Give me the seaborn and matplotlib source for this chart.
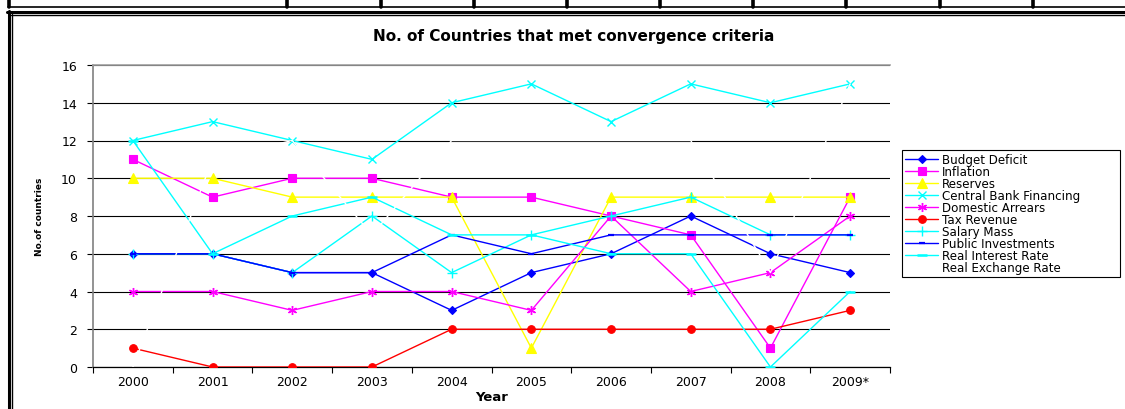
import matplotlib
matplotlib.use("Agg")
import numpy as np
import pandas as pd
import matplotlib.pyplot as plt
from matplotlib.lines import Line2D
import seaborn as sns

# ---- data -------------------------------------------------------------
years = ["2000", "2001", "2002", "2003", "2004", "2005", "2006", "2007", "2008", "2009*"]

budget_deficit = [6, 6, 5, 5, 3, 5, 6, 8, 6, 5]
inflation = [11, 9, 10, 10, 9, 9, 8, 7, 1, 9]
reserves = [10, 10, 9, 9, 9, 1, 9, 9, 9, 9]
central_bank_financing = [12, 13, 12, 11, 14, 15, 13, 15, 14, 15]
domestic_arrears = [4, 4, 3, 4, 4, 3, 8, 4, 5, 8]
tax_revenue = [1, 0, 0, 0, 2, 2, 2, 2, 2, 3]
salary_mass = [6, 6, 5, 8, 5, 7, 8, 9, 7, 7]
public_investments = [6, 6, 5, 5, 7, 6, 7, 7, 7, 7]
real_interest_rate = [12, 6, 8, 9, 7, 7, 6, 6, 0, 4]
real_exchange_rate = [0, 11, 12, 7, 12, 12, 12, 12, 5, 15]

series_names = [
    "Budget Deficit", "Inflation", "Reserves", "Central Bank Financing",
    "Domestic Arrears", "Tax Revenue", "Salary Mass", "Public Investments",
    "Real Interest Rate", "Real Exchange Rate",
]
series_values = [
    budget_deficit, inflation, reserves, central_bank_financing,
    domestic_arrears, tax_revenue, salary_mass, public_investments,
    real_interest_rate, real_exchange_rate,
]

df = pd.DataFrame({
    "Year": years * len(series_names),
    "Count": [v for vals in series_values for v in vals],
    "Criterion": [n for n in series_names for _ in years],
})

# ---- styling per series ------------------------------------------------
styles = {
    "Budget Deficit":         dict(color="#0000FF", marker="D", ms=4.2, mew=0.8, lw=1.0),
    "Inflation":              dict(color="#FF00FF", marker="s", ms=5.8, mew=0.8, lw=1.0),
    "Reserves":               dict(color="#FFFF00", marker="^", ms=6.5, mew=0.8, lw=1.0),
    "Central Bank Financing": dict(color="#00FFFF", marker="x", ms=6.0, mew=1.0, lw=1.0),
    "Domestic Arrears":       dict(color="#FF00FF", marker=(6, 2, 0), ms=6.5, mew=1.0, lw=1.0),
    "Tax Revenue":            dict(color="#FF0000", marker="o", ms=5.5, mew=0.8, lw=1.0),
    "Salary Mass":            dict(color="#00FFFF", marker="+", ms=6.5, mew=1.0, lw=1.0),
    "Public Investments":     dict(color="#0000FF", marker="_", ms=5.0, mew=1.6, lw=1.0),
    "Real Interest Rate":     dict(color="#00FFFF", marker="_", ms=7.0, mew=1.8, lw=1.0),
    "Real Exchange Rate":     dict(color="#FFFFFF", marker=None, ms=0.0, mew=0.0, lw=1.0),
}

sns.set_style("white")
plt.rcParams["font.family"] = ["DejaVu Sans"]
plt.rcParams["text.color"] = "black"
plt.rcParams["axes.labelcolor"] = "black"
plt.rcParams["xtick.color"] = "black"
plt.rcParams["ytick.color"] = "black"

W, H = 1125, 410
fig = plt.figure(figsize=(W / 100, H / 100), dpi=100)
fig.patch.set_facecolor("white")


def fx(px):
    return px / W


def fy(py):
    return 1 - py / H


ax = fig.add_axes([fx(93), fy(368), fx(890) - fx(93), fy(66) - fy(368)])

handles = []
for i, name in enumerate(series_names):
    st = styles[name]
    sub = df[df["Criterion"] == name]
    sns.lineplot(
        data=sub, x="Year", y="Count", ax=ax, color=st["color"],
        marker=st["marker"], markersize=st["ms"], markeredgewidth=st["mew"],
        markeredgecolor=st["color"], markerfacecolor=st["color"],
        linewidth=st["lw"], errorbar=None, legend=False, zorder=3 + i,
    )
    line = ax.lines[-1]
    line.set_label(name)
    handles.append(line)

# ---- axes -------------------------------------------------------------
ax.set_xlim(-0.5, len(years) - 0.5)
ax.set_ylim(0, 16)
ax.set_yticks(np.arange(0, 17, 2))
ax.set_xticks(np.arange(len(years)))
ax.set_xticklabels(years)
ax.set_xticks(np.arange(len(years) + 1) - 0.5, minor=True)

ax.yaxis.grid(True, color="black", linewidth=0.8)
ax.xaxis.grid(False)
ax.set_axisbelow(True)

ax.spines["right"].set_visible(False)
ax.spines["top"].set_color("#A0A0A0")
ax.spines["top"].set_linewidth(1.2)
ax.spines["left"].set_color("#808080")
ax.spines["left"].set_linewidth(1.2)
ax.spines["bottom"].set_color("black")
ax.spines["bottom"].set_linewidth(0.9)

ax.tick_params(axis="y", which="major", direction="out", length=4.5, width=0.8,
               color="black", labelcolor="black", pad=7, labelsize=9, left=True)
ax.tick_params(axis="x", which="major", length=0, pad=6, labelsize=9,
               labelcolor="black", bottom=True)
ax.tick_params(axis="x", which="minor", direction="out", length=4, width=0.8,
               color="black", bottom=True)

ax.set_xlabel("Year", fontweight="bold", fontsize=9.5, labelpad=1.5, color="black")
ax.set_ylabel("No.of countries", fontweight="bold", fontsize=6.5, labelpad=12,
              color="black")

fig.text(fx(574), fy(36), "No. of Countries that met convergence criteria",
         ha="center", va="center", fontweight="bold", fontsize=11, color="black")

# ---- legend -----------------------------------------------------------
leg = fig.legend(
    handles=handles, labels=series_names, loc="upper left",
    bbox_to_anchor=(fx(902), fy(281), fx(1120) - fx(902), fy(151) - fy(281)),
    mode="expand", fontsize=8.6, frameon=True, fancybox=False, framealpha=1,
    edgecolor="black", borderpad=0.25, labelspacing=-0.08, handlelength=2.8,
    handletextpad=0.3, borderaxespad=0, labelcolor="black",
)
leg.get_frame().set_linewidth(0.8)

# ---- page frame around the chart -------------------------------------
def hline(y, x0, x1, lw):
    fig.add_artist(Line2D([fx(x0), fx(x1)], [fy(y), fy(y)], color="black",
                          linewidth=lw, transform=fig.transFigure))


def vline(x, y0, y1, lw):
    fig.add_artist(Line2D([fx(x), fx(x)], [fy(y0), fy(y1)], color="black",
                          linewidth=lw, transform=fig.transFigure))


hline(8, 8, W, 1.2)
for xc in [9, 287, 381, 474, 567, 660, 753, 846, 940, 1033]:
    vline(xc, 0, 8, 2.6)
hline(13, 7, W, 2.2)
hline(15.8, 11, W, 1.0)
vline(8.5, 12, H, 2.2)
vline(11.8, 15, H, 1.0)

fig.savefig("out.png", dpi=100, facecolor="white")
